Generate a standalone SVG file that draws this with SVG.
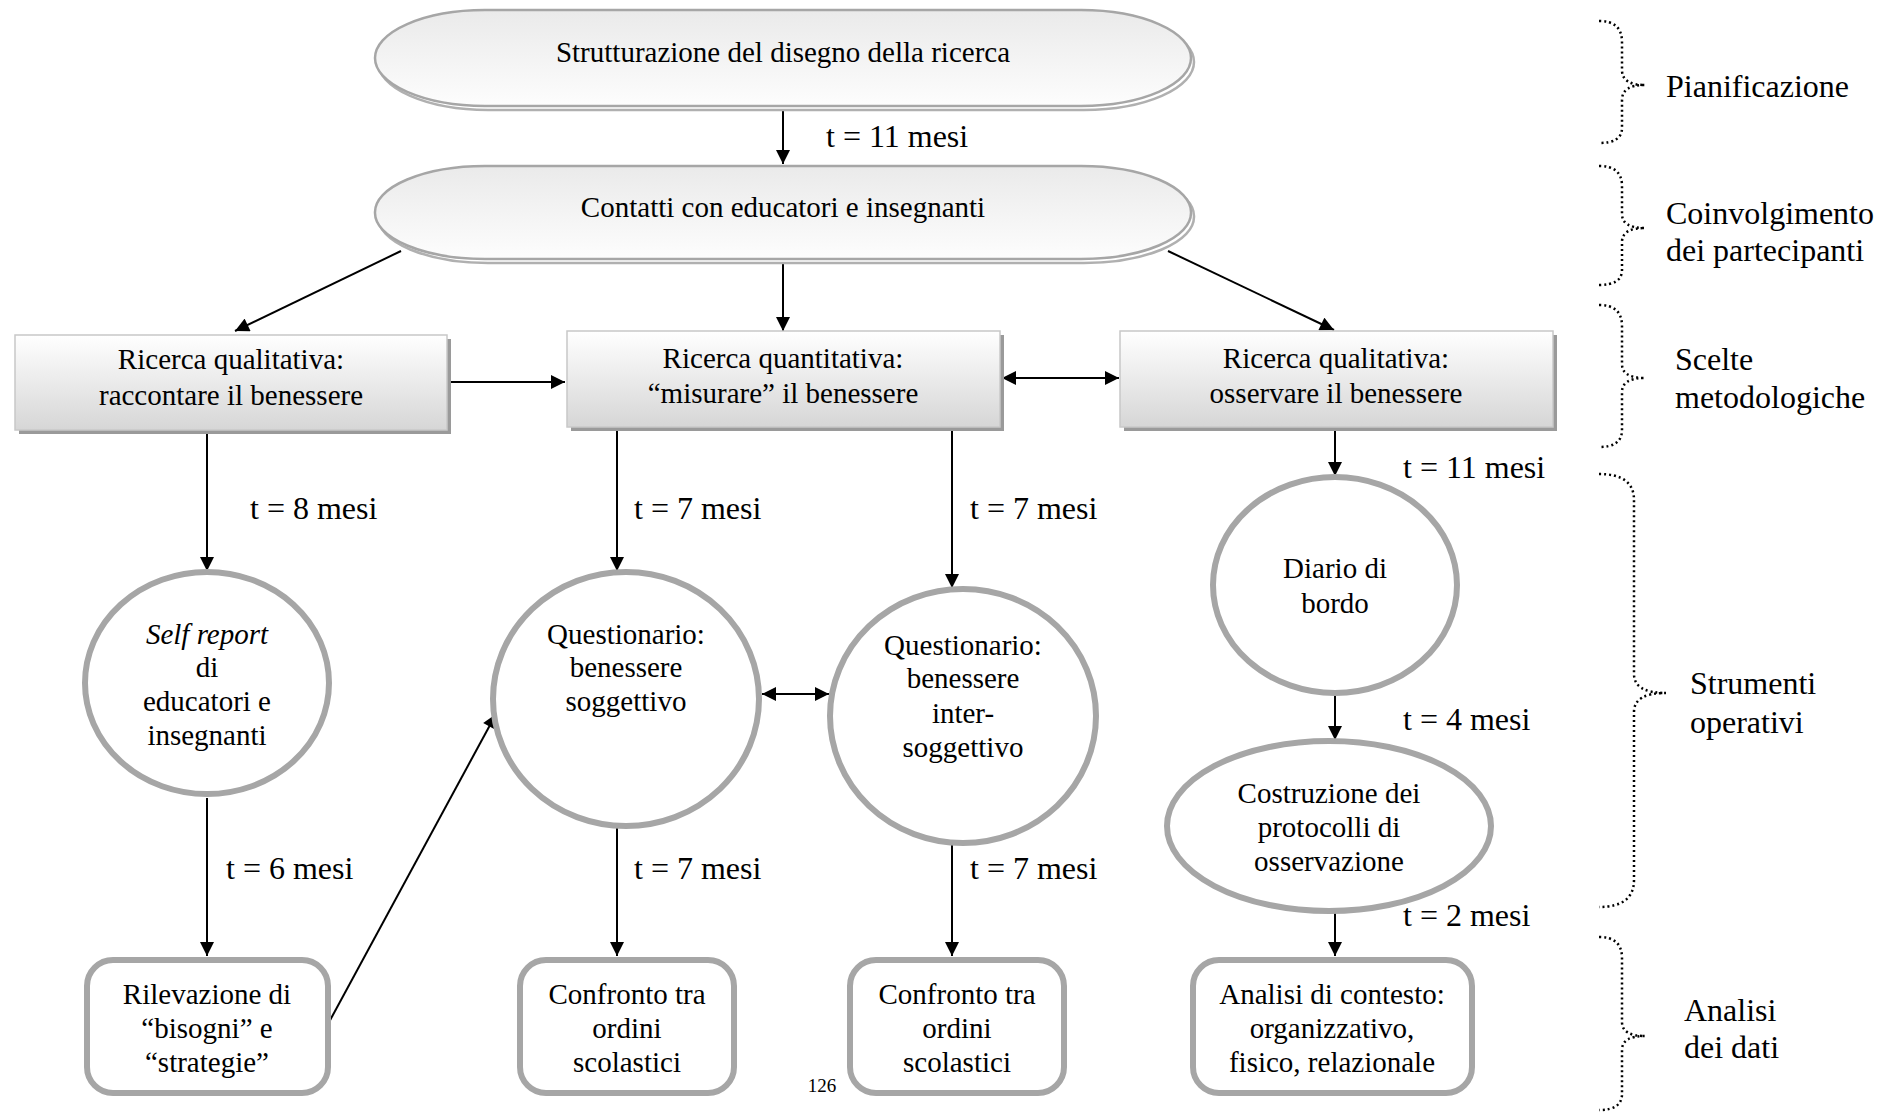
<svg xmlns="http://www.w3.org/2000/svg" width="1896" height="1114" viewBox="0 0 1896 1114">
<defs>
<linearGradient id="gPill" x1="0" y1="0" x2="0" y2="1">
<stop offset="0" stop-color="#eaeaea"/>
<stop offset="1" stop-color="#fdfdfd"/>
</linearGradient>
<linearGradient id="gBox" x1="0" y1="0" x2="0" y2="1">
<stop offset="0" stop-color="#ffffff"/>
<stop offset="1" stop-color="#d6d6d6"/>
</linearGradient>
<marker id="ah" viewBox="0 0 10 10" refX="10" refY="5" markerWidth="7.5" markerHeight="7" markerUnits="strokeWidth" orient="auto-start-reverse">
<path d="M0,0 L10,5 L0,10 Z" fill="#000"/>
</marker>
</defs>
<style>
text{font-family:"Liberation Serif","Times New Roman",serif;fill:#000;text-anchor:middle}
.n{font-size:29px}
.l{font-size:32px;text-anchor:start}
.shadow{fill:#9a9a9a}
.pshadow{fill:#fff;stroke:#b0b0b0;stroke-width:2.5}
.pill{fill:url(#gPill);stroke:#a6a6a6;stroke-width:2.5}
.box{fill:url(#gBox);stroke:#c8c8c8;stroke-width:1.5}
.ring{fill:#fff;stroke:#a6a6a6;stroke-width:6}
.c{stroke:#000;stroke-width:2;fill:none;marker-end:url(#ah)}
.cc{stroke:#000;stroke-width:2;fill:none;marker-end:url(#ah);marker-start:url(#ah)}
.br{stroke:#000;stroke-width:2.5;fill:none;stroke-dasharray:2 3}
</style>
<rect width="1896" height="1114" fill="#fff"/>

<g id="connectors">
<line class="c" x1="783" y1="106" x2="783" y2="164"/>
<line class="c" x1="401" y1="251" x2="235" y2="331"/>
<line class="c" x1="783" y1="261" x2="783" y2="331"/>
<line class="c" x1="1168" y1="251" x2="1334" y2="330"/>
<line class="c" x1="447" y1="382" x2="565" y2="382"/>
<line class="cc" x1="1002" y1="378" x2="1119" y2="378"/>
<line class="c" x1="207" y1="432" x2="207" y2="571"/>
<line class="c" x1="617" y1="430" x2="617" y2="571"/>
<line class="c" x1="952" y1="430" x2="952" y2="588"/>
<line class="c" x1="1335" y1="430" x2="1335" y2="476"/>
<line class="cc" x1="762" y1="694" x2="829" y2="694"/>
<line class="c" x1="207" y1="798" x2="207" y2="956"/>
<line class="c" x1="328" y1="1024" x2="496" y2="714"/>
<line class="c" x1="617" y1="828" x2="617" y2="956"/>
<line class="c" x1="952" y1="844" x2="952" y2="956"/>
<line class="c" x1="1335" y1="694" x2="1335" y2="740"/>
<line class="c" x1="1335" y1="912" x2="1335" y2="956"/>
</g>

<g id="labels">
<text class="l" x="826" y="147">t = 11 mesi</text>
<text class="l" x="250" y="519">t = 8 mesi</text>
<text class="l" x="634" y="519">t = 7 mesi</text>
<text class="l" x="970" y="519">t = 7 mesi</text>
<text class="l" x="1403" y="478">t = 11 mesi</text>
<text class="l" x="226" y="879">t = 6 mesi</text>
<text class="l" x="634" y="879">t = 7 mesi</text>
<text class="l" x="970" y="879">t = 7 mesi</text>
<text class="l" x="1403" y="730">t = 4 mesi</text>
<text class="l" x="1403" y="926">t = 2 mesi</text>
</g>

<g id="n-strutturazione">
<rect class="pshadow" x="378" y="14" width="816" height="96" rx="110" ry="48"/>
<rect class="pill" x="375" y="10" width="816" height="96" rx="110" ry="48"/>
<text class="n" x="783" y="62">Strutturazione del disegno della ricerca</text>
</g>
<g id="n-contatti">
<rect class="pshadow" x="378" y="170" width="816" height="93" rx="110" ry="46"/>
<rect class="pill" x="375" y="166" width="816" height="93" rx="110" ry="46"/>
<text class="n" x="783" y="217">Contatti con educatori e insegnanti</text>
</g>

<g id="n-raccontare">
<rect class="shadow" x="19" y="339" width="432" height="95"/>
<rect class="box" x="15" y="335" width="432" height="95"/>
<text class="n" x="231" y="369">Ricerca qualitativa:</text>
<text class="n" x="231" y="405">raccontare il benessere</text>
</g>
<g id="n-misurare">
<rect class="shadow" x="571" y="335" width="433" height="96"/>
<rect class="box" x="567" y="331" width="433" height="96"/>
<text class="n" x="783" y="368">Ricerca quantitativa:</text>
<text class="n" x="783" y="403">“misurare” il benessere</text>
</g>
<g id="n-osservare">
<rect class="shadow" x="1124" y="335" width="433" height="96"/>
<rect class="box" x="1120" y="331" width="433" height="96"/>
<text class="n" x="1336" y="368">Ricerca qualitativa:</text>
<text class="n" x="1336" y="403">osservare il benessere</text>
</g>

<g id="n-selfreport">
<ellipse class="ring" cx="207" cy="683" rx="122" ry="111"/>
<text class="n" x="207" y="644"><tspan font-style="italic">Self report</tspan></text>
<text class="n" x="207" y="677">di</text>
<text class="n" x="207" y="711">educatori e</text>
<text class="n" x="207" y="745">insegnanti</text>
</g>
<g id="n-soggettivo">
<ellipse class="ring" cx="626" cy="699" rx="133" ry="127"/>
<text class="n" x="626" y="644">Questionario:</text>
<text class="n" x="626" y="677">benessere</text>
<text class="n" x="626" y="711">soggettivo</text>
</g>
<g id="n-intersoggettivo">
<ellipse class="ring" cx="963" cy="716" rx="133" ry="127"/>
<text class="n" x="963" y="655">Questionario:</text>
<text class="n" x="963" y="688">benessere</text>
<text class="n" x="963" y="723">inter-</text>
<text class="n" x="963" y="757">soggettivo</text>
</g>
<g id="n-diario">
<ellipse class="ring" cx="1335" cy="585" rx="122" ry="108"/>
<text class="n" x="1335" y="578">Diario di</text>
<text class="n" x="1335" y="613">bordo</text>
</g>
<g id="n-protocolli">
<ellipse class="ring" cx="1329" cy="826" rx="162" ry="85"/>
<text class="n" x="1329" y="803">Costruzione dei</text>
<text class="n" x="1329" y="837">protocolli di</text>
<text class="n" x="1329" y="871">osservazione</text>
</g>

<g id="n-rilevazione">
<rect class="ring" x="87" y="960" width="241" height="133" rx="26"/>
<text class="n" x="207" y="1004">Rilevazione di</text>
<text class="n" x="207" y="1038">“bisogni” e</text>
<text class="n" x="207" y="1072">“strategie”</text>
</g>
<g id="n-confronto1">
<rect class="ring" x="520" y="960" width="214" height="133" rx="26"/>
<text class="n" x="627" y="1004">Confronto tra</text>
<text class="n" x="627" y="1038">ordini</text>
<text class="n" x="627" y="1072">scolastici</text>
</g>
<g id="n-confronto2">
<rect class="ring" x="850" y="960" width="214" height="133" rx="26"/>
<text class="n" x="957" y="1004">Confronto tra</text>
<text class="n" x="957" y="1038">ordini</text>
<text class="n" x="957" y="1072">scolastici</text>
</g>
<g id="n-analisi">
<rect class="ring" x="1193" y="960" width="279" height="133" rx="26"/>
<text class="n" x="1332" y="1004">Analisi di contesto:</text>
<text class="n" x="1332" y="1038">organizzativo,</text>
<text class="n" x="1332" y="1072">fisico, relazionale</text>
</g>

<text x="822" y="1092" style="font-size:19px">126</text>

<g id="phases">
<path class="br" d="M1599,21 Q1622,21 1622,42 L1622,70 Q1622,85 1645,85 Q1622,85 1622,100 L1622,128 Q1622,143 1599,143"/>
<text class="l" x="1666" y="97">Pianificazione</text>
<path class="br" d="M1599,166 Q1622,166 1622,186 L1622,214 Q1622,228 1645,228 Q1622,228 1622,242 L1622,270 Q1622,285 1599,285"/>
<text class="l" x="1666" y="224">Coinvolgimento</text>
<text class="l" x="1666" y="261">dei partecipanti</text>
<path class="br" d="M1599,305 Q1622,305 1622,326 L1622,364 Q1622,378 1645,378 Q1622,378 1622,392 L1622,430 Q1622,447 1599,447"/>
<text class="l" x="1675" y="370">Scelte</text>
<text class="l" x="1675" y="408">metodologiche</text>
<path class="br" d="M1599,474 Q1634,474 1634,500 L1634,674 Q1634,693 1666,693 Q1634,693 1634,712 L1634,880 Q1634,907 1599,907"/>
<text class="l" x="1690" y="694">Strumenti</text>
<text class="l" x="1690" y="733">operativi</text>
<path class="br" d="M1599,937 Q1622,937 1622,958 L1622,1022 Q1622,1036 1645,1036 Q1622,1036 1622,1050 L1622,1094 Q1622,1110 1599,1110"/>
<text class="l" x="1684" y="1021">Analisi</text>
<text class="l" x="1684" y="1058">dei dati</text>
</g>
</svg>
